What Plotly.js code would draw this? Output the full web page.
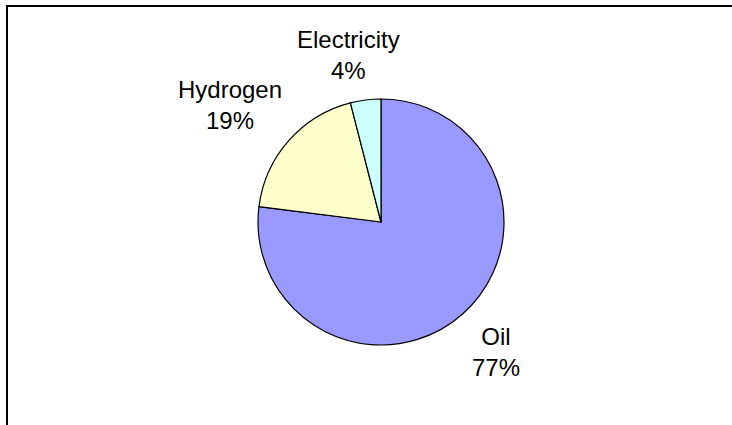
<!DOCTYPE html>
<html>
<head>
<meta charset="utf-8">
<script src="https://cdn.plot.ly/plotly-3.0.1.min.js"></script>
<style>
html,body{margin:0;padding:0;background:#fff;}
#chart{width:732px;height:425px;}
</style>
</head>
<body>
<div id="chart"></div>
<script>
const labels = ["Oil", "Hydrogen", "Electricity"];
const values = [77, 19, 4];
const colors = ["#9999FF", "#FFFFCC", "#CCFFFF"];

const W = 732, H = 425;
const cx = 381, cy = 222, r = 123;
// label centre positions in pixels (layout only)
const labelPos = [[496, 352], [230, 105], [348, 55]];

const total = values.reduce((a, b) => a + b, 0);

const trace = {
  type: "pie",
  labels: labels,
  values: values,
  sort: false,
  direction: "clockwise",
  rotation: 0,
  marker: {colors: colors, line: {color: "#000000", width: 1.2}},
  textinfo: "none",
  hoverinfo: "none",
  showlegend: false,
  domain: {x: [(cx - r) / W, (cx + r) / W], y: [(H - cy - r) / H, (H - cy + r) / H]}
};

const annotations = labels.map((lab, i) => ({
  xref: "paper", yref: "paper",
  x: labelPos[i][0] / W, y: 1 - labelPos[i][1] / H,
  xanchor: "center", yanchor: "middle",
  showarrow: false,
  align: "center",
  text: lab + "<br>" + Math.round(values[i] / total * 100) + "%",
  font: {family: "Liberation Sans, Arial, sans-serif", size: 24, color: "#000000"}
}));

const layout = {
  width: W,
  height: H,
  margin: {l: 0, r: 0, t: 0, b: 0},
  paper_bgcolor: "#ffffff",
  showlegend: false,
  annotations: annotations,
  shapes: [
    {type: "line", xref: "paper", yref: "paper", x0: 7 / W, x1: 7 / W, y0: -0.05, y1: 1 - 6 / H, line: {color: "#000", width: 2}},
    {type: "line", xref: "paper", yref: "paper", x0: 6 / W, x1: 1.05, y0: 1 - 6 / H, y1: 1 - 6 / H, line: {color: "#000", width: 2}}
  ]
};

Plotly.newPlot("chart", [trace], layout, {displayModeBar: false, staticPlot: true});
</script>
</body>
</html>
